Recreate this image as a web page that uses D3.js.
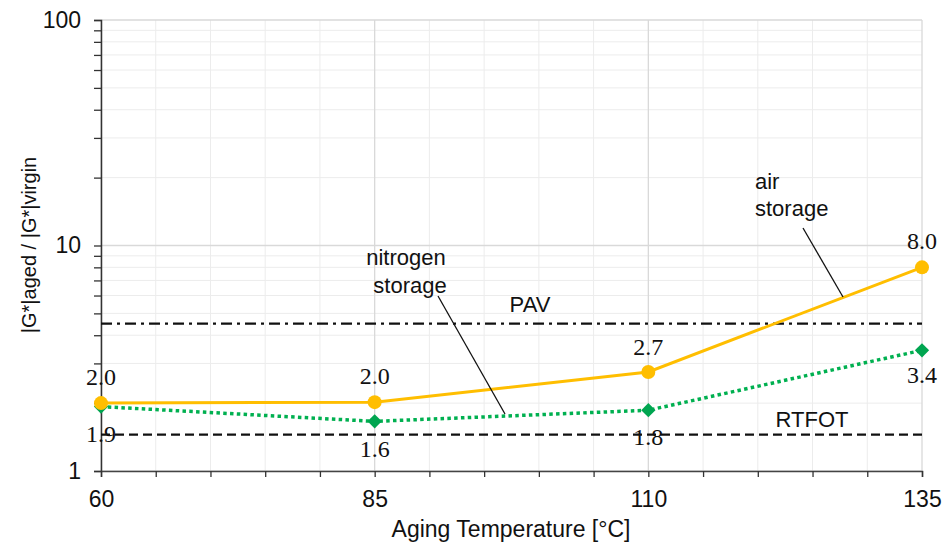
<!DOCTYPE html>
<html><head><meta charset="utf-8">
<script src="https://cdn.jsdelivr.net/npm/d3@7"></script>
<style>body{margin:0;background:#fff}</style>
</head><body>
<svg id="c" width="949" height="551"></svg>
<script>
const temps = [60, 85, 110, 135];
const airStorage = [2.0, 2.02, 2.75, 8.0];
const airLabels = ["2.0", "2.0", "2.7", "8.0"];
const nitrogenStorage = [1.93, 1.66, 1.86, 3.43];
const nitrogenLabels = ["1.9", "1.6", "1.8", "3.4"];
const refPAV = 4.5;
const refRTFOT = 1.45;
const xTicks = [60, 85, 110, 135];
const yTicks = [1, 10, 100];

const svg = d3.select("#c");
const L = 101, R = 922, T = 20, B = 471;
const x = d3.scaleLinear().domain([60, 135]).range([L, R]);
const y = d3.scaleLog().domain([1, 100]).range([B, T]);
const sans = "Liberation Sans, Arial, sans-serif";
const serif = "Liberation Serif, Times New Roman, serif";

const yMinor = [];
for (let d = 1; d < 100; d *= 10) for (let k = 2; k <= 9; k++) yMinor.push(d * k);
const xMinor = d3.range(65, 135, 5).filter(v => !xTicks.includes(v));

const g = svg.append("g");
g.selectAll(".ym").data(yMinor).enter().append("line")
  .attr("x1", L).attr("x2", R).attr("y1", d => y(d)).attr("y2", d => y(d))
  .attr("stroke", "#ececec").attr("stroke-width", 1);
g.selectAll(".xm").data(xMinor).enter().append("line")
  .attr("y1", T).attr("y2", B).attr("x1", d => x(d)).attr("x2", d => x(d))
  .attr("stroke", "#ececec").attr("stroke-width", 1);
g.selectAll(".yM").data(yTicks).enter().append("line")
  .attr("x1", L).attr("x2", R).attr("y1", d => y(d)).attr("y2", d => y(d))
  .attr("stroke", "#d9d9d9").attr("stroke-width", 1.3);
g.selectAll(".xM").data(xTicks).enter().append("line")
  .attr("y1", T).attr("y2", B).attr("x1", d => x(d)).attr("x2", d => x(d))
  .attr("stroke", "#d9d9d9").attr("stroke-width", 1.3);

const yAxis = d3.axisLeft(y).tickValues(yTicks.concat(yMinor)).tickSize(7).tickFormat(d => yTicks.includes(d) ? d : "");
const ya = svg.append("g").attr("transform", `translate(${L},0)`).call(yAxis);
ya.select(".domain").attr("stroke", "#333").attr("stroke-width", 1.5);
ya.selectAll(".tick line").attr("stroke", "#333").attr("stroke-width", 1.3);
ya.selectAll("text").attr("font-family", sans).attr("font-size", 23).attr("fill", "#111").attr("x", -20);

const xAxis = d3.axisBottom(x).tickValues(xTicks.concat(xMinor)).tickSize(6).tickFormat(d => xTicks.includes(d) ? d : "");
const xa = svg.append("g").attr("transform", `translate(0,${B})`).call(xAxis);
xa.select(".domain").attr("stroke", "#444").attr("stroke-width", 1.5);
xa.selectAll(".tick line").attr("stroke", "#333").attr("stroke-width", 1.3);
xa.selectAll("text").attr("font-family", sans).attr("font-size", 23).attr("fill", "#111").attr("dy", 0).attr("y", 36);

svg.append("line").attr("x1", L).attr("x2", R).attr("y1", y(refPAV)).attr("y2", y(refPAV))
  .attr("stroke", "#111").attr("stroke-width", 2.3).attr("stroke-dasharray", "11,5,3,5");
svg.append("line").attr("x1", L).attr("x2", R).attr("y1", y(refRTFOT)).attr("y2", y(refRTFOT))
  .attr("stroke", "#111").attr("stroke-width", 2.3).attr("stroke-dasharray", "9,5");

const line = d3.line().x((d, i) => x(temps[i])).y(d => y(d));

svg.append("path").attr("d", line(nitrogenStorage)).attr("fill", "none")
  .attr("stroke", "#00B050").attr("stroke-width", 3.5).attr("stroke-dasharray", "3.5,3.3");
svg.selectAll(".nd").data(nitrogenStorage).enter().append("path")
  .attr("d", d3.symbol().type(d3.symbolDiamond2 || d3.symbolDiamond).size(130))
  .attr("transform", (d, i) => `translate(${x(temps[i])},${y(d)})`)
  .attr("fill", "#00A550");

svg.append("path").attr("d", line(airStorage)).attr("fill", "none")
  .attr("stroke", "#FFBE00").attr("stroke-width", 3);
svg.selectAll(".ad").data(airStorage).enter().append("circle")
  .attr("cx", (d, i) => x(temps[i])).attr("cy", d => y(d)).attr("r", 7)
  .attr("fill", "#FFBE00");

const airOff = [-18, -18, -17, -18];
svg.selectAll(".al").data(airLabels).enter().append("text")
  .attr("x", (d, i) => x(temps[i])).attr("y", (d, i) => y(airStorage[i]) + airOff[i])
  .attr("text-anchor", "middle").attr("font-family", serif).attr("font-size", 24).attr("fill", "#111").text(d => d);
const nOff = [35, 36, 35, 33];
svg.selectAll(".nl").data(nitrogenLabels).enter().append("text")
  .attr("x", (d, i) => x(temps[i])).attr("y", (d, i) => y(nitrogenStorage[i]) + nOff[i])
  .attr("text-anchor", "middle").attr("font-family", serif).attr("font-size", 24).attr("fill", "#111").text(d => d);

const ann = (t, xx, yy) => svg.append("text").attr("x", xx).attr("y", yy).attr("text-anchor", "middle")
  .attr("font-family", sans).attr("font-size", 22).attr("fill", "#111").text(t);
ann("PAV", 530, 312);
ann("RTFOT", 812, 427);
ann("nitrogen", 406, 265);
ann("storage", 410, 293);
svg.append("text").attr("x", 755).attr("y", 189).attr("font-family", sans).attr("font-size", 22).attr("fill", "#111").text("air");
svg.append("text").attr("x", 755).attr("y", 216).attr("font-family", sans).attr("font-size", 22).attr("fill", "#111").text("storage");
svg.append("line").attr("x1", 438).attr("y1", 296).attr("x2", 505).attr("y2", 414).attr("stroke", "#111").attr("stroke-width", 1.3);
svg.append("line").attr("x1", 803).attr("y1", 228).attr("x2", 843).attr("y2", 297).attr("stroke", "#111").attr("stroke-width", 1.3);

svg.append("text").attr("x", 511).attr("y", 537).attr("text-anchor", "middle")
  .attr("font-family", sans).attr("font-size", 23).attr("fill", "#111").text("Aging Temperature [°C]");
svg.append("text").attr("transform", "translate(36,245) rotate(-90)").attr("text-anchor", "middle")
  .attr("font-family", sans).attr("font-size", 20).attr("fill", "#111").text("|G*|aged / |G*|virgin");
</script>
</body></html>
